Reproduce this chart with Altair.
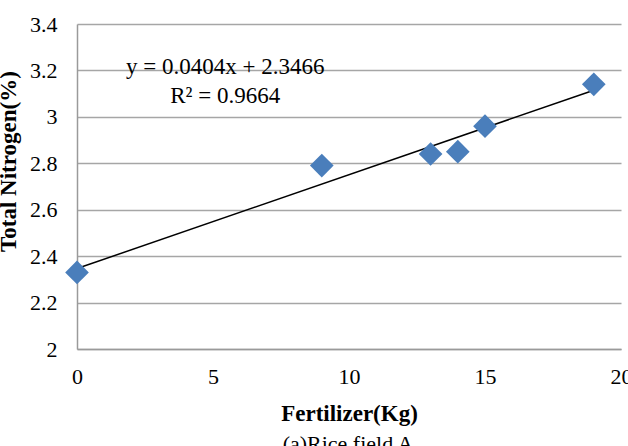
import altair as alt
import pandas as pd

fertilizer = [0, 9, 13, 14, 15, 19]
nitrogen = [2.33, 2.79, 2.84, 2.85, 2.96, 3.14]
eq_lines = ["y = 0.0404x + 2.3466", "R² = 0.9664"]
eq_x = [5.45, 5.45]
eq_y = [3.215, 3.09]
x_ticks = [0, 5, 10, 15, 20]
y_ticks = [2, 2.2, 2.4, 2.6, 2.8, 3, 3.2, 3.4]

df = pd.DataFrame({"x": fertilizer, "y": nitrogen})
tdf = pd.DataFrame({"x": eq_x, "y": eq_y, "t": eq_lines})

FONT = "Liberation Serif"
xs = alt.Scale(domain=[0, 20], nice=False)
ys = alt.Scale(domain=[2, 3.4], nice=False)

base = alt.Chart(df)

points = base.mark_point(shape="diamond", filled=True, size=560, color="#4A7EBB", opacity=1).encode(
    x=alt.X("x:Q", scale=xs, axis=alt.Axis(
        title="Fertilizer(Kg)", values=x_ticks, grid=False, ticks=False, format="d",
        labelPadding=17, labelFlush=False, titleX=272, titleY=71, titleBaseline="alphabetic",
        domainColor="#9a9a9a", domainWidth=1.5)),
    y=alt.Y("y:Q", scale=ys, axis=alt.Axis(
        title="Total Nitrogen(%)", values=y_ticks, grid=True, format=".1~f",
        gridColor="#a6a6a6", gridWidth=1.5, ticks=False, labelPadding=20, labelFlush=False,
        titleX=-62, titleY=137, titleBaseline="alphabetic",
        domainColor="#9a9a9a", domainWidth=1.5)),
)

trend = base.transform_regression("x", "y", extent=[0, 19]).mark_line(color="black", strokeWidth=1.5).encode(
    x=alt.X("x:Q", scale=xs), y=alt.Y("y:Q", scale=ys)
)

eq = alt.Chart(tdf).mark_text(font=FONT, fontSize=23, color="#000000").encode(
    x=alt.X("x:Q", scale=xs), y=alt.Y("y:Q", scale=ys), text="t:N"
)

sub = alt.Chart(pd.DataFrame({"t": ["(a)Rice field A"]})).mark_text(
    font=FONT, fontSize=22, color="#000000", baseline="alphabetic").encode(
    x=alt.value(271), y=alt.value(427), text="t:N")

chart = alt.layer(trend, points, eq, sub).properties(
    width=544, height=325,
    autosize=alt.AutoSizeParams(type="none"),
    padding={"left": 77, "top": 24, "right": 7, "bottom": 97},
).configure_view(stroke=None).configure_axis(
    labelFont=FONT, titleFont=FONT, labelFontSize=22, titleFontSize=23,
    labelColor="#000000", titleColor="#000000", labelFontWeight="normal", titleFontWeight="bold"
)

chart.save("out.html", embed_options={"renderer": "svg", "actions": False})
